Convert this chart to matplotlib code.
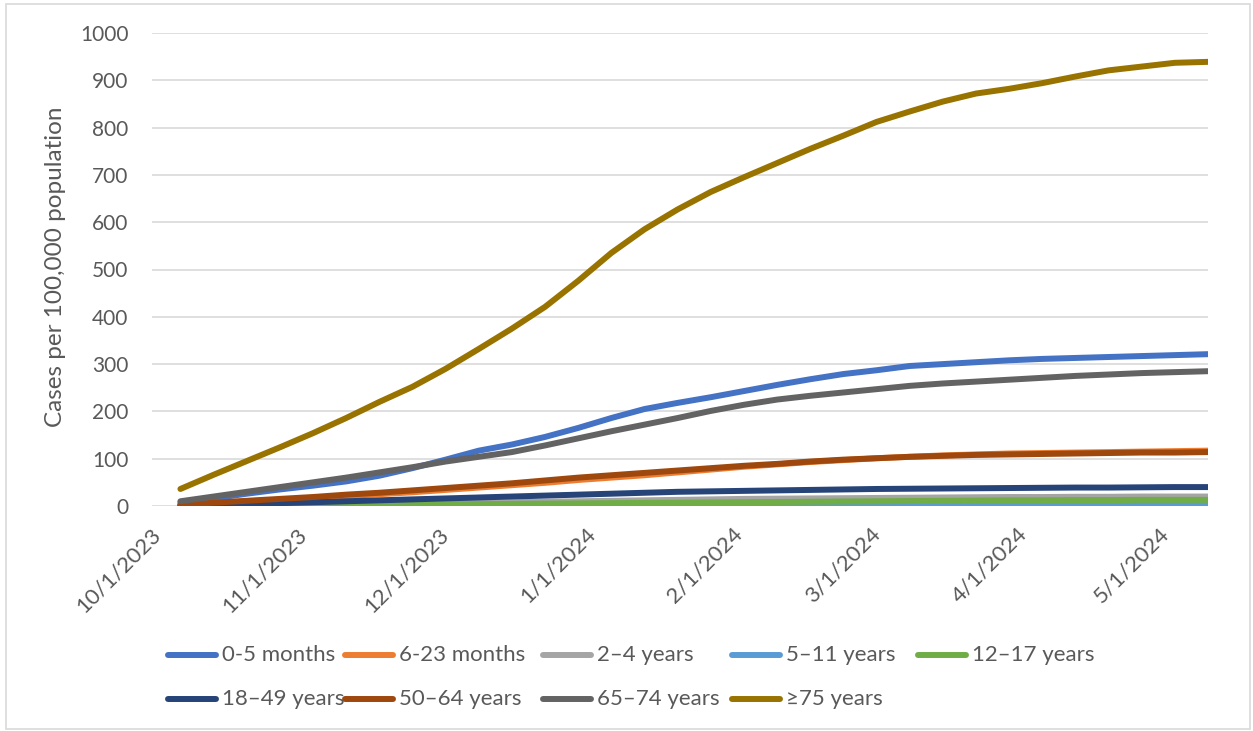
import pandas as pd
import matplotlib
matplotlib.use("Agg")
import matplotlib.pyplot as plt
import matplotlib.dates as mdates
from matplotlib.transforms import ScaledTranslation
from matplotlib.patches import Rectangle
from matplotlib.lines import Line2D

# Weekly cumulative rates, cases per 100,000 population
week_ending = [
    "2023-10-07", "2023-10-14", "2023-10-21", "2023-10-28", "2023-11-04",
    "2023-11-11", "2023-11-18", "2023-11-25", "2023-12-02", "2023-12-09",
    "2023-12-16", "2023-12-23", "2023-12-30", "2024-01-06", "2024-01-13",
    "2024-01-20", "2024-01-27", "2024-02-03", "2024-02-10", "2024-02-17",
    "2024-02-24", "2024-03-02", "2024-03-09", "2024-03-16", "2024-03-23",
    "2024-03-30", "2024-04-06", "2024-04-13", "2024-04-20", "2024-04-27",
    "2024-05-04", "2024-05-11",
]

age_0_5m = [7, 16, 26, 35, 43, 52, 64, 80, 98, 117, 130, 146, 165, 186, 205, 218,
            230, 243, 256, 268, 279, 287, 296, 300, 304, 308, 311, 313, 315, 317, 319, 321]
age_6_23m = [2, 6, 10, 13, 17, 21, 25, 29, 34, 39, 44, 49, 55, 60, 65, 71,
             77, 83, 88, 93, 97, 101, 104, 107, 109, 111, 112, 113, 114, 115, 116, 117]
age_2_4y = [0, 0.5, 1, 1.5, 2, 3, 4, 5, 6, 7, 8, 9, 10, 11, 12, 13,
            14, 15, 15.5, 16, 16.5, 17, 17.5, 18, 18.5, 19, 19, 19.5, 19.5, 20, 20, 20]
age_5_11y = [0, 0.2, 0.4, 0.6, 0.8, 1, 1.3, 1.6, 2, 2.3, 2.6, 3, 3.3, 3.6, 4, 4.3,
             4.6, 4.8, 5, 5.2, 5.4, 5.5, 5.6, 5.7, 5.8, 5.9, 6, 6, 6, 6, 6, 6]
age_12_17y = [0, 0.3, 0.6, 1, 1.5, 2, 2.5, 3, 3.5, 4, 4.5, 5, 5.5, 6, 6.5, 7,
              7.5, 8, 8.5, 9, 9.5, 10, 10.5, 11, 11.5, 12, 12, 12.5, 12.5, 13, 13, 13]
age_18_49y = [1, 3, 4, 6, 8, 10, 12, 14, 16, 18, 20, 22, 24, 26, 28, 30,
              31, 32, 33, 34, 35, 36, 36.5, 37, 37.5, 38, 38.5, 39, 39, 39.5, 40, 40]
age_50_64y = [3, 7, 11, 15, 19, 24, 28, 33, 38, 43, 48, 54, 60, 65, 70, 75,
              80, 85, 89, 94, 98, 101, 104, 106, 108, 109, 110, 111, 112, 113, 113, 114]
age_65_74y = [10, 20, 30, 40, 50, 60, 71, 82, 94, 104, 114, 128, 143, 158, 172, 186,
              201, 214, 225, 233, 240, 247, 254, 259, 263, 267, 271, 275, 278, 281, 283, 285]
age_75plus = [36, 66, 95, 124, 154, 186, 220, 252, 290, 332, 375, 421, 476, 535, 585, 627,
              664, 695, 725, 755, 783, 812, 834, 855, 872, 882, 894, 908, 921, 929, 937, 939]

labels = ["0-5 months", "6-23 months", "2\u20134 years", "5\u201311 years", "12\u201317 years",
          "18\u201349 years", "50\u201364 years", "65\u201374 years", "\u226575 years"]
series = [age_0_5m, age_6_23m, age_2_4y, age_5_11y, age_12_17y,
          age_18_49y, age_50_64y, age_65_74y, age_75plus]
colors = ["#4472C4", "#ED7D31", "#A5A5A5", "#5B9BD5", "#70AD47",
          "#264478", "#9E480E", "#636363", "#997300"]

dates = pd.to_datetime(week_ending)

plt.rcParams["font.family"] = ["Lato", "DejaVu Sans"]
text_color = "#595959"
W, H = 1253, 731

fig = plt.figure(figsize=(W / 100, H / 100), dpi=100)
ax = fig.add_axes([152 / W, 1 - 506 / H, (1208 - 152) / W, (506 - 33) / H])

for vals, lab, col in zip(series, labels, colors):
    ax.plot(dates, vals, color=col, linewidth=4.3, label=lab,
            solid_capstyle="round", solid_joinstyle="round")

ax.set_ylim(0, 1000)
ax.set_yticks(range(0, 1001, 100))
ax.set_xlim(pd.Timestamp("2023-10-01"), pd.Timestamp("2024-05-11"))
ax.xaxis.set_major_locator(mdates.MonthLocator())
ax.xaxis.set_major_formatter(
    plt.FuncFormatter(lambda v, p: "{0.month}/{0.day}/{0.year}".format(mdates.num2date(v))))

ax.grid(axis="y", color="#D9D9D9", linewidth=1.2)
ax.set_axisbelow(True)
for s in ax.spines.values():
    s.set_visible(False)
ax.tick_params(axis="y", length=0, labelsize=15, labelcolor=text_color, pad=17)
ax.tick_params(axis="x", length=0, labelsize=16, labelcolor=text_color, pad=13)

for lab in ax.get_xticklabels():
    lab.set_rotation(45)
    lab.set_ha("right")
    lab.set_va("top")
    lab.set_rotation_mode("anchor")
    lab.set_transform(lab.get_transform() + ScaledTranslation(-2 / 100, 0, fig.dpi_scale_trans))

ax.set_ylabel("Cases per 100,000 population", fontsize=17.5, color=text_color)
ax.yaxis.set_label_coords(-0.081, 0.505)

# legend laid out the way Excel put it: two rows, entries at fixed spots
legend_x = [168, 345, 543, 732, 918, 168, 345, 543, 732]
legend_y = [655, 655, 655, 655, 655, 699, 699, 699, 699]
for lab, col, lx, ly in zip(labels, colors, legend_x, legend_y):
    fy = 1 - ly / H
    fig.add_artist(Line2D([lx / W, (lx + 48) / W], [fy, fy], transform=fig.transFigure,
                          color=col, linewidth=4.3, solid_capstyle="round"))
    fig.text((lx + 54) / W, fy, lab, fontsize=16, color=text_color, va="center", ha="left")

fig.patches.append(Rectangle((6 / W, 2 / H), 1244 / W, 725 / H,
                             transform=fig.transFigure, fill=False,
                             edgecolor="#D9D9D9", linewidth=1.2))

plt.savefig("out.png", dpi=100)
